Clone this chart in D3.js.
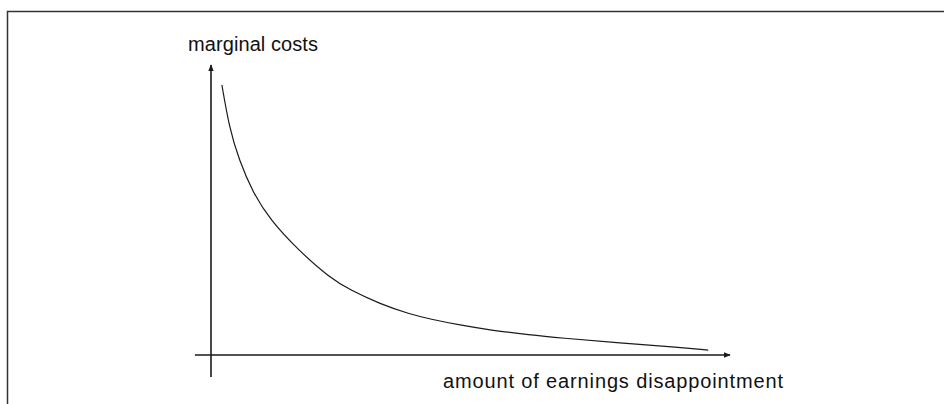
<!DOCTYPE html>
<html>
<head>
<meta charset="utf-8">
<script src="https://cdn.jsdelivr.net/npm/d3@7"></script>
<style>
  body { margin: 0; background: #fff; }
  text { font-family: "Liberation Sans", Arial, sans-serif; fill: #111; }
</style>
</head>
<body>
<svg id="chart" width="944" height="404"></svg>
<script>
// curve readings (arbitrary units, 0..100 on both axes)
const amount = [2.1, 3.5, 5.4, 8.1, 11.4, 16.8, 22.9, 26.8, 32.6, 38.3, 42.2, 48.0, 53.8, 61.5, 67.2, 78.8, 90.4, 95.8];
const costs = [93.1, 78.6, 67.2, 55.9, 46.6, 36.2, 26.6, 22.4, 17.6, 14.1, 12.4, 10.3, 8.6, 6.9, 5.9, 4.1, 2.6, 1.7];
const xAxisExtent = [-3.1, 100];
const yAxisExtent = [-7.6, 100];
const xLabel = 'amount of earnings disappointment';
const yLabel = 'marginal costs';

(function() {
  const svg = d3.select('#chart');
  const x = d3.scaleLinear().domain([0, 100]).range([211, 730]);
  const y = d3.scaleLinear().domain([0, 100]).range([355, 65]);
  const ink = '#1a1a1a';

  // frame (only top and left edges show)
  svg.append('path')
    .attr('d', 'M7.5,404V11.5H944')
    .attr('fill', 'none')
    .attr('stroke', '#333')
    .attr('stroke-width', 1.5);

  svg.append('defs').append('marker')
    .attr('id', 'arrow')
    .attr('viewBox', '0 0 10 10')
    .attr('refX', 9).attr('refY', 5)
    .attr('markerWidth', 7).attr('markerHeight', 7)
    .attr('markerUnits', 'userSpaceOnUse')
    .attr('orient', 'auto')
    .append('path')
    .attr('d', 'M0,1L10,5L0,9Z')
    .attr('fill', ink);

  // axes
  svg.append('line')
    .attr('x1', x(xAxisExtent[0])).attr('x2', x(xAxisExtent[1]))
    .attr('y1', y(0)).attr('y2', y(0))
    .attr('stroke', ink).attr('stroke-width', 1.4)
    .attr('marker-end', 'url(#arrow)');
  svg.append('line')
    .attr('x1', x(0)).attr('x2', x(0))
    .attr('y1', y(yAxisExtent[0])).attr('y2', y(yAxisExtent[1]))
    .attr('stroke', ink).attr('stroke-width', 1.6)
    .attr('marker-end', 'url(#arrow)');

  const line = d3.line()
    .x((d, i) => x(amount[i]))
    .y(d => y(d))
    .curve(d3.curveBasis);

  svg.append('path')
    .attr('d', line(costs))
    .attr('fill', 'none')
    .attr('stroke', ink)
    .attr('stroke-width', 1.2);

  svg.append('text')
    .attr('x', 188).attr('y', 51)
    .attr('font-size', 20)
    .attr('textLength', 130)
    .text(yLabel);

  svg.append('text')
    .attr('x', 443).attr('y', 388)
    .attr('font-size', 20)
    .attr('textLength', 340)
    .text(xLabel);
})();
</script>
</body>
</html>
